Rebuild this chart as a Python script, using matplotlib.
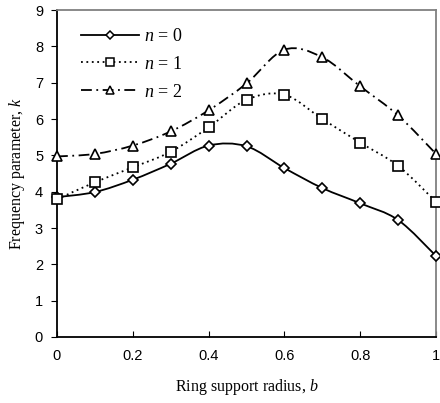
import numpy as np
import matplotlib.pyplot as plt
from matplotlib.path import Path
from matplotlib.patches import PathPatch
from matplotlib.lines import Line2D

b = [0, 0.1, 0.2, 0.3, 0.4, 0.5, 0.6, 0.7, 0.8, 0.9, 1.0]
k_n0 = [3.85, 3.99, 4.33, 4.77, 5.27, 5.25, 4.65, 4.10, 3.68, 3.22, 2.23]
k_n1 = [3.79, 4.26, 4.67, 5.10, 5.77, 6.53, 6.67, 6.00, 5.35, 4.71, 3.72]
k_n2 = [4.97, 5.04, 5.27, 5.66, 6.24, 6.98, 7.91, 7.70, 6.90, 6.10, 5.04]
labels = ['$n$ = 0', '$n$ = 1', '$n$ = 2']


def smooth_path(x, y):
    # excel-style smoothed line: cubic bezier through points
    x = np.asarray(x, float)
    y = np.asarray(y, float)
    verts = [(x[0], y[0])]
    codes = [Path.MOVETO]
    n = len(x)
    for i in range(n - 1):
        x0, y0 = (x[i - 1], y[i - 1]) if i > 0 else (x[i], y[i])
        x3, y3 = (x[i + 2], y[i + 2]) if i + 2 < n else (x[i + 1], y[i + 1])
        c1 = (x[i] + (x[i + 1] - x0) / 6, y[i] + (y[i + 1] - y0) / 6)
        c2 = (x[i + 1] - (x3 - x[i]) / 6, y[i + 1] - (y3 - y[i]) / 6)
        verts += [c1, c2, (x[i + 1], y[i + 1])]
        codes += [Path.CURVE4] * 3
    return Path(verts, codes)


plt.rcParams['font.family'] = 'Liberation Sans'
plt.rcParams['mathtext.fontset'] = 'custom'
plt.rcParams['mathtext.it'] = 'Liberation Serif:italic'
plt.rcParams['mathtext.rm'] = 'Liberation Serif'

fig = plt.figure(figsize=(4.4, 4.03), dpi=100)
ax = fig.add_axes([0.1295, 0.1638, 0.8615, 0.8112])

styles = [('-', 'D', 5.5), ((0, (1, 2)), 's', 7), ((0, (6, 2.5, 1, 2.5)), '^', 7)]
handles = []
for ys, (ls, mk, ms), lab in zip([k_n0, k_n1, k_n2], styles, labels):
    ax.add_patch(PathPatch(smooth_path(b, ys), fill=False, edgecolor='black',
                           linestyle=ls, linewidth=1.3, zorder=2))
    ax.plot(b, ys, linestyle='none', marker=mk, markersize=ms, markerfacecolor='white',
            markeredgecolor='black', markeredgewidth=1.2, zorder=3, clip_on=False)
    handles.append(Line2D([], [], color='black', linestyle=ls, linewidth=1.3, marker=mk,
                          markersize=ms * 0.75, markerfacecolor='white', markeredgecolor='black',
                          markeredgewidth=1.1, label=lab))

ax.set_xlim(0, 1)
ax.set_ylim(0, 9)
ax.set_xticks([0, 0.2, 0.4, 0.6, 0.8, 1.0])
ax.set_xticklabels(['0', '0.2', '0.4', '0.6', '0.8', '1'], fontsize=10.5)
ax.set_yticks(range(10))
ax.set_yticklabels([str(i) for i in range(10)], fontsize=10.5)
ax.tick_params(axis='x', direction='in', length=4, pad=9)
ax.tick_params(axis='y', direction='out', length=4, pad=6)
ax.spines['top'].set_color('#808080')
ax.spines['right'].set_color('#808080')
for s in ax.spines.values():
    s.set_linewidth(1.3)

ax.set_xlabel('Ring support radius, $b$', family='Liberation Serif', fontsize=11.5, labelpad=10)
ax.set_ylabel('Frequency parameter, $k$', family='Liberation Serif', fontsize=11.5, labelpad=6)

leg = ax.legend(handles=handles, loc='upper left', frameon=False, handlelength=3.2,
                handletextpad=0.3, prop={'family': 'Liberation Serif', 'size': 13},
                bbox_to_anchor=(0.02, 0.995), labelspacing=0.6)

fig.savefig('out.png', dpi=100)
